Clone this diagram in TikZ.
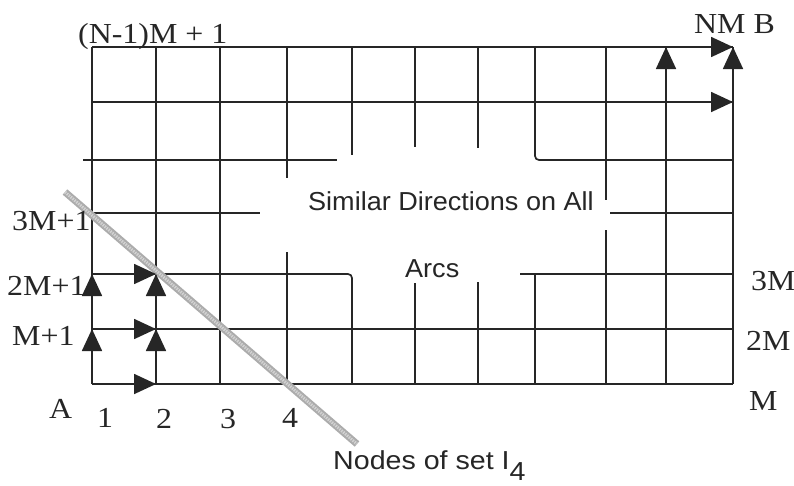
\documentclass[tikz,border=0pt]{standalone}
\usepackage{fontspec}
\setmainfont{Liberation Serif}[FakeStretch=1.1]
\newfontfamily\labsans{Liberation Sans}[FakeStretch=1.04]
\newfontfamily\labsansw{Liberation Sans}[FakeStretch=1.1]
\usetikzlibrary{arrows.meta}
\begin{document}
\begin{tikzpicture}[x=1pt,y={(0pt,-1pt)},
  gridline/.style={line width=1.7pt, black!85},
  arr/.style={line width=1.7pt, black!85, -{Triangle[length=22pt,width=20pt]}},
  lab/.style={inner sep=0pt, anchor=base west, font=\fontsize{29}{31}\selectfont, text=black!85},
  slab/.style={inner sep=0pt, anchor=base west, font=\labsans\fontsize{26}{28}\selectfont, text=black!85}]
\useasboundingbox (0,0) rectangle (794,485);
\fill[white] (0,0) rectangle (794,485);
% grid points
\foreach \i/\x in {0/92,1/156,2/220,3/287,4/352,5/415,6/478,7/535,8/606,9/666,10/733} {
  \foreach \j/\y in {0/384,1/329,2/274,3/213,4/160,5/102,6/47} {
    \coordinate (p-\i-\j) at (\x,\y);
  }
}
% stub ends
\coordinate (h2r) at (520,274);
\coordinate (h3l) at (260,213);
\coordinate (h3r) at (610,213);
\coordinate (h4a) at (83,160);
\coordinate (h4b) at (337,160);
\coordinate (v3a) at (287,178);
\coordinate (v3b) at (287,252);
\coordinate (v4a) at (352,155);
\coordinate (v5a) at (415,147);
\coordinate (v5b) at (415,283);
\coordinate (v6a) at (478,148);
\coordinate (v6b) at (478,282);
\coordinate (v8a) at (606,200);
\coordinate (v8b) at (606,230);
% horizontal lines
\draw[gridline] (p-0-0) -- (p-10-0);
\draw[gridline] (p-0-1) -- (p-10-1);
\draw[gridline,rounded corners=4pt] (p-0-2) -- (p-4-2) -- (p-4-0);
\draw[gridline] (h2r) -- (p-10-2);
\draw[gridline] (p-0-3) -- (h3l);
\draw[gridline] (h3r) -- (p-10-3);
\draw[gridline] (h4a) -- (h4b);
\draw[gridline,rounded corners=4pt] (p-7-6) -- (p-7-4) -- (p-10-4);
\draw[gridline] (p-0-5) -- (p-10-5);
\draw[gridline] (p-0-6) -- (p-10-6);
% vertical lines
\foreach \i in {0,1,2,9,10} {\draw[gridline] (p-\i-6) -- (p-\i-0);}
\draw[gridline] (p-3-6) -- (v3a);
\draw[gridline] (v3b) -- (p-3-0);
\draw[gridline] (p-4-6) -- (v4a);
\draw[gridline] (p-5-6) -- (v5a);
\draw[gridline] (v5b) -- (p-5-0);
\draw[gridline] (p-6-6) -- (v6a);
\draw[gridline] (v6b) -- (p-6-0);
\draw[gridline] (p-7-2) -- (p-7-0);
\draw[gridline] (p-8-6) -- (v8a);
\draw[gridline] (v8b) -- (p-8-0);
% diagonal band
\coordinate (d1) at (65,192);
\coordinate (d2) at (357,444);
\draw[line width=7pt, gray!65] (d1) -- (d2);
\draw[line width=3pt, gray!35, dash pattern=on 1.5pt off 1pt] (d1) -- (d2);
% arrows bottom left
\draw[arr] (p-0-0) -- (p-1-0);
\draw[arr] (p-0-0) -- (p-0-1);
\draw[arr] (p-1-0) -- (p-1-1);
\draw[arr] (p-0-1) -- (p-1-1);
\draw[arr] (p-0-1) -- (p-0-2);
\draw[arr] (p-1-1) -- (p-1-2);
\draw[arr] (p-0-2) -- (p-1-2);
% arrows top right
\draw[arr] (p-9-6) -- (p-10-6);
\draw[arr] (p-9-5) -- (p-10-5);
\draw[arr] (p-9-5) -- (p-9-6);
\draw[arr] (p-10-5) -- (p-10-6);
% labels
\node[lab] (ltop) at (78,43) {(N-1)M + 1};
\node[lab] (lnm) at (694,33) {NM B};
\node[lab] (l3m1) at (12,230) {3M+1};
\node[lab] (l2m1) at (7,295) {2M+1};
\node[lab] (lm1) at (12,345) {M+1};
\node[lab] (lA) at (49,418) {A};
\node[lab] (n1) at (97,427) {1};
\node[lab] (n2) at (156,428) {2};
\node[lab] (n3) at (220,428) {3};
\node[lab] (n4) at (282,427) {4};
\node[lab] (l3m) at (751,290) {3M};
\node[lab] (l2m) at (746,350) {2M};
\node[lab] (lm) at (749,410) {M};
\node[slab] (sim) at (308,210) {Similar Directions on All};
\node[slab] (arcs) at (405,277) {Arcs};
\node[slab, font=\labsansw\fontsize{26}{28}\selectfont] (nodes) at (333,469) {Nodes of set I\raisebox{-11pt}{4}};
\end{tikzpicture}
\end{document}
